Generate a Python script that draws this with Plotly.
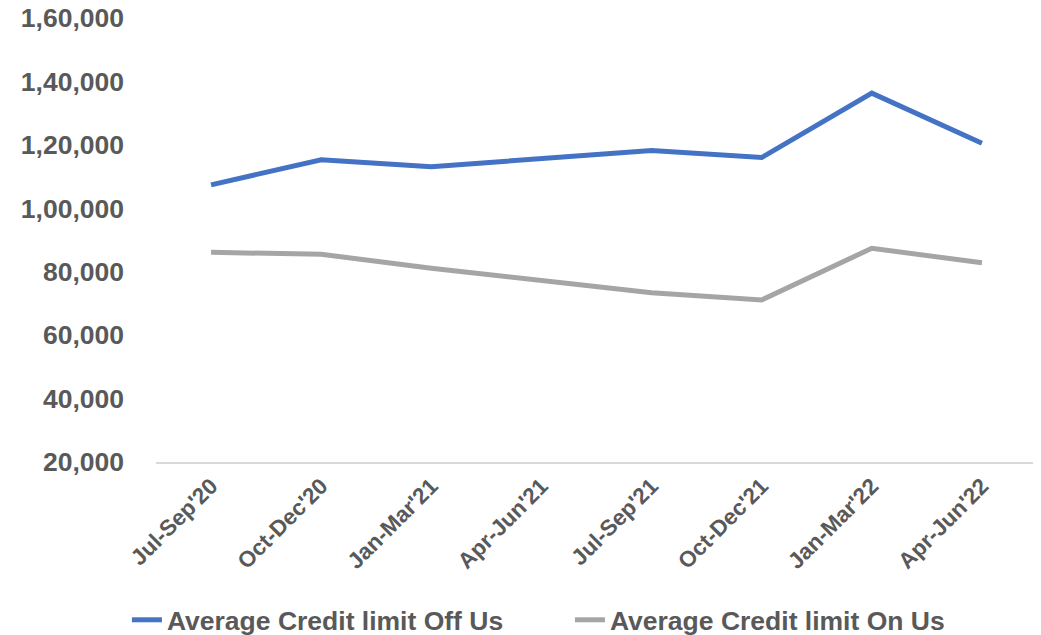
import plotly.graph_objects as go

categories = ["Jul-Sep'20", "Oct-Dec'20", "Jan-Mar'21", "Apr-Jun'21",
              "Jul-Sep'21", "Oct-Dec'21", "Jan-Mar'22", "Apr-Jun'22"]
off_us = [107400, 115300, 113100, 115500, 118200, 116000, 136300, 120500]
on_us = [86100, 85500, 81100, 77200, 73400, 71100, 87400, 82800]
y_tickvals = [20000, 40000, 60000, 80000, 100000, 120000, 140000, 160000]
y_ticktext = ["20,000", "40,000", "60,000", "80,000", "1,00,000", "1,20,000", "1,40,000", "1,60,000"]

FONT = "Liberation Sans, Arial, sans-serif"
TXT = "#595959"

fig = go.Figure()
fig.add_trace(go.Scatter(x=categories, y=off_us, mode="lines",
                         name="<b>Average Credit limit Off Us</b>",
                         line=dict(color="#4472C4", width=5)))
fig.add_trace(go.Scatter(x=categories, y=on_us, mode="lines",
                         name="<b>Average Credit limit On Us</b>",
                         line=dict(color="#A5A5A5", width=5)))

# page body has an 8px default margin, so the figure is sized to fit the window
fig.update_layout(
    width=1033, height=627,
    margin=dict(l=148, r=4, t=10, b=173, autoexpand=False),
    paper_bgcolor="white", plot_bgcolor="white",
    font=dict(family=FONT, color=TXT),
    showlegend=True,
    legend=dict(orientation="h", x=-0.033, xanchor="left", y=-0.356, yanchor="middle",
                font=dict(size=26.5, color=TXT, family=FONT),
                entrywidth=398, traceorder="normal"),
    xaxis=dict(type="category", range=[-0.5, 7.5], showgrid=False,
               showline=True, linecolor="#D9D9D9", linewidth=2,
               tickangle=-45, tickfont=dict(size=22.5, color=TXT, family=FONT),
               ticks="", tickprefix="<b>", ticksuffix="</b>", automargin=False,
               ticklabeloverflow="allow"),
    yaxis=dict(range=[20000, 160000], showgrid=False, zeroline=False,
               showline=False, tickvals=y_tickvals,
               ticktext=["<b>" + t + "</b>" for t in y_ticktext],
               tickfont=dict(size=26.5, color=TXT, family=FONT),
               ticklabelstandoff=31, automargin=False, ticklabeloverflow="allow"),
)

fig.write_html("out.html")
